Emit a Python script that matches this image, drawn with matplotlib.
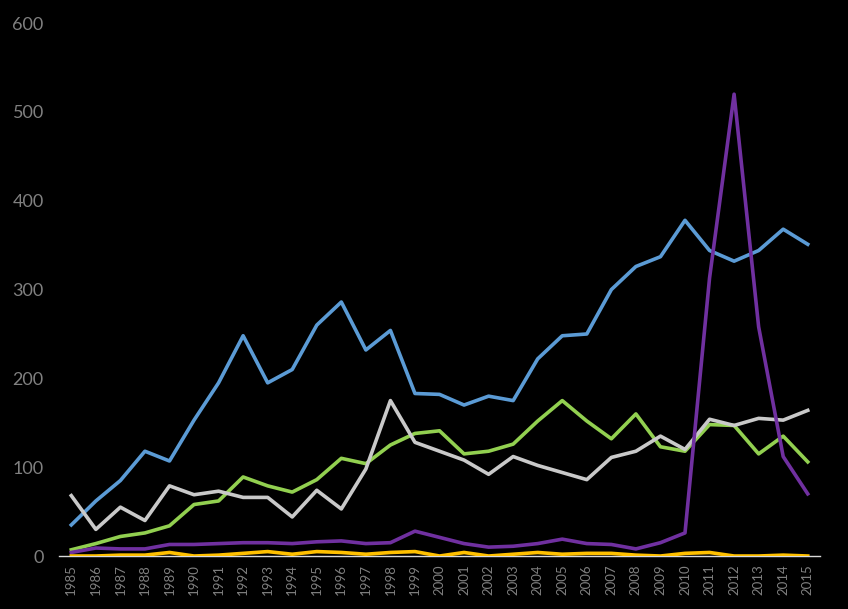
import numpy as np
import matplotlib.pyplot as plt

years = list(range(1985, 2016))

blue = [35, 62, 85, 118, 107, 153, 195, 248, 195, 210, 260, 286, 232, 254, 183, 182,
        170, 180, 175, 222, 248, 250, 300, 326, 337, 378, 344, 332, 344, 368, 351]
green = [7, 14, 22, 26, 34, 58, 62, 89, 79, 72, 86, 110, 104, 125, 138, 141,
         115, 118, 126, 152, 175, 152, 132, 160, 123, 118, 148, 147, 115, 135, 106]
gray = [68, 30, 55, 40, 79, 69, 73, 66, 66, 44, 74, 53, 98, 175, 128, 118,
        108, 92, 112, 102, 94, 86, 111, 118, 135, 120, 154, 147, 155, 153, 164]
purple = [4, 9, 8, 8, 13, 13, 14, 15, 15, 14, 16, 17, 14, 15, 28, 21,
          14, 10, 11, 14, 19, 14, 13, 8, 15, 26, 313, 520, 258, 112, 70]
yellow = [0, 0, 1, 1, 4, 0, 1, 3, 5, 2, 5, 4, 2, 4, 5, 0,
          4, 0, 2, 4, 2, 3, 3, 1, 0, 3, 4, 0, 0, 1, 0]

plt.rcParams['font.family'] = ['Lato', 'DejaVu Sans']

fig = plt.figure(figsize=(8.48, 6.09), dpi=100, facecolor='black')
ax = fig.add_axes([0.0696, 0.087, 0.8974, 0.875])
ax.set_facecolor('black')

lw = 2.6
ax.plot(years, blue, color='#5B9BD5', lw=lw)
ax.plot(years, green, color='#92D050', lw=lw)
ax.plot(years, gray, color='#C9C9C9', lw=lw)
ax.plot(years, purple, color='#7030A0', lw=lw)
ax.plot(years, yellow, color='#FFC000', lw=lw, zorder=4)

ax.set_xlim(1984.5, 2015.5)
ax.set_ylim(0, 600)
ax.set_yticks(range(0, 601, 100))
ax.set_xticks(years)
ax.set_xticklabels([str(y) for y in years], rotation=90)

for s in ['top', 'right', 'left']:
    ax.spines[s].set_visible(False)
ax.spines['bottom'].set_color('#d9d9d9')
ax.spines['bottom'].set_linewidth(1)
ax.spines['bottom'].set_zorder(3)
ax.tick_params(axis='both', length=0, colors='#808080')
ax.tick_params(axis='y', labelsize=13, pad=11)
ax.tick_params(axis='x', labelsize=9.5, pad=6)

fig.savefig('out.png', dpi=100, facecolor='black')
